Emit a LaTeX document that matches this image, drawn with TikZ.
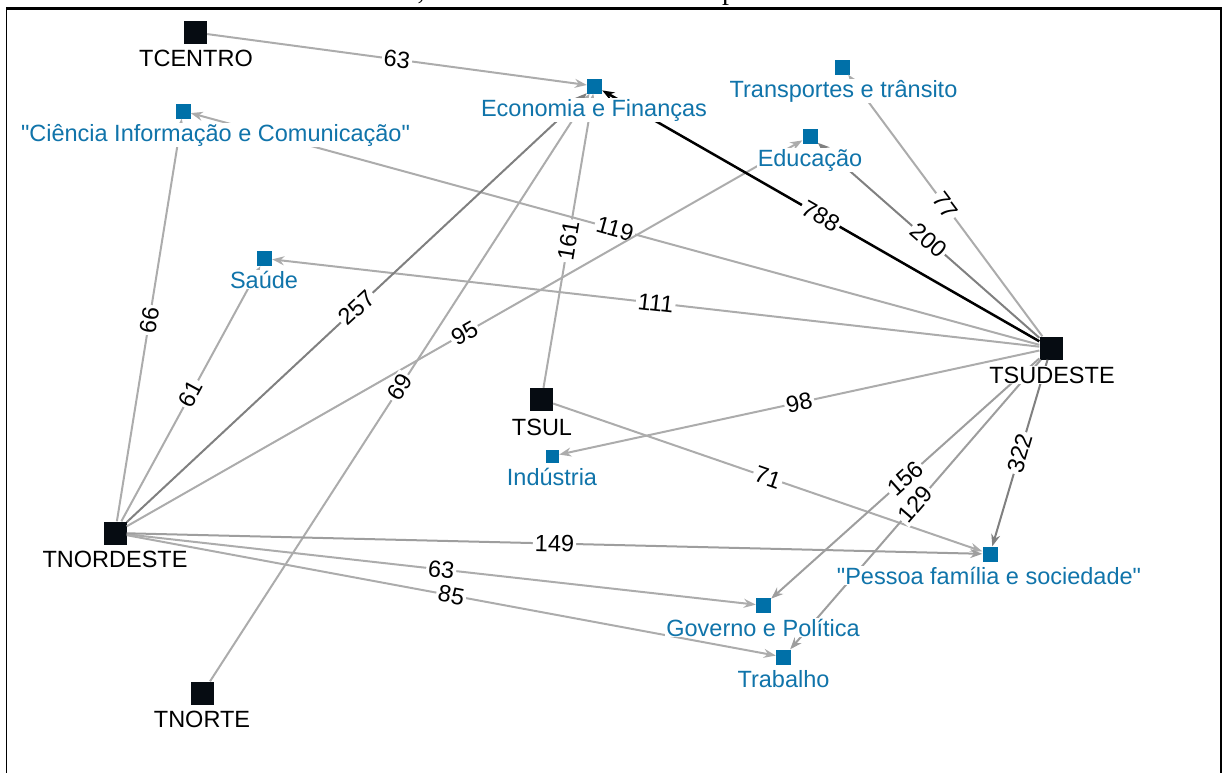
\documentclass[tikz,border=0pt]{standalone}
\usepackage{fontspec}
\setmainfont{Liberation Sans}
% plain family without TeX ligatures, so that " stays a straight quote
\newfontfamily\labelfont{Liberation Sans}
\newfontfamily\capfont{Liberation Serif}
\usetikzlibrary{arrows.meta}

\definecolor{topicblue}{RGB}{0,112,168}
\definecolor{labelblue}{RGB}{16,116,170}
\definecolor{regionsq}{RGB}{6,12,18}
\definecolor{edgelt}{RGB}{172,172,172}
\definecolor{edgemd}{RGB}{158,158,158}
\definecolor{edgedk}{RGB}{128,128,128}
\newcommand{\lblfont}{\labelfont\fontsize{23.5}{28}\selectfont}

\begin{document}
\begin{tikzpicture}[x=1pt,y=-1pt,
  region/.style={rectangle, fill=regionsq, minimum size=23pt, inner sep=0pt},
  topic/.style={rectangle, fill=topicblue, minimum size=15pt, inner sep=0pt},
  rlabel/.style={anchor=base, font=\lblfont, text=black, fill=white, inner sep=1pt},
  tlabel/.style={anchor=base, font=\lblfont, text=labelblue, fill=white, inner sep=1pt},
  link/.style={draw=#1, line width=2pt, -{Stealth[length=12pt,width=9pt]}},
  wnum/.style={midway, sloped, font=\lblfont, text=black, fill=white, inner sep=2pt}
]
\useasboundingbox (0,0) rectangle (1222,772);

% frame and remains of the caption line above it
\node[anchor=base, font=\capfont\fontsize{28}{30}\selectfont, inner sep=0pt] (capa) at (421,-1) {,};
\node[anchor=base, font=\capfont\fontsize{28}{30}\selectfont, inner sep=0pt] (capb) at (729,-1) {p};
\draw[line width=1.4pt] (6.5,773) -- (6.5,8) -- (1221,8) -- (1221,773);
\draw[line width=1pt] (6.5,9.5) -- (1221,9.5);

% regions
\node[region] (tcentro)   at (195.5,32.5) {};
\node[region] (tsudeste)  at (1051,348)   {};
\node[region] (tnordeste) at (115,533)    {};
\node[region] (tnorte)    at (202.5,693)  {};
\node[region] (tsul)      at (541.5,399.5) {};

% topics
\node[topic] (cic)  at (183,111)    {};
\node[topic] (sau)  at (264.5,258.5) {};
\node[topic] (eco)  at (594.5,86)   {};
\node[topic] (tra)  at (842.5,67)   {};
\node[topic] (edu)  at (810,136)    {};
\node[topic, minimum size=13pt] (ind) at (552.5,456) {};
\node[topic] (gov)  at (763.5,605.5) {};
\node[topic] (trab) at (783.5,657)  {};
\node[topic] (pes)  at (990,554)    {};

% links
\draw[link=edgelt] (tcentro) -- node[wnum]{63} (eco);
\draw[link=edgelt] (tsudeste) -- node[wnum]{119} (cic);
\draw[link=edgelt] (tsudeste) -- node[wnum]{111} (sau);
\draw[link=edgelt] (tsudeste) -- node[wnum]{77} (tra);
\draw[link=edgelt] (tsudeste) -- node[wnum]{98} (ind);
\draw[link=edgelt] (tsul) -- node[wnum]{161} (eco);
\draw[link=edgelt] (tsul) -- node[wnum]{71} (pes);
\draw[link=edgelt] (tnordeste) -- node[wnum]{66} (cic);
\draw[link=edgelt] (tnordeste) -- node[wnum]{61} (sau);
\draw[link=edgelt] (tnordeste) -- node[wnum]{95} (edu);
\draw[link=edgelt] (tnordeste) -- node[wnum]{63} (gov);
\draw[link=edgelt] (tnordeste) -- node[wnum]{85} (trab);
\draw[link=edgelt] (tnorte) -- node[wnum]{69} (eco);
\draw[link=edgemd] (tsudeste) -- node[wnum]{129} (trab);
\draw[link=edgemd] (tsudeste) -- node[wnum]{156} (gov);
\draw[link=edgemd] (tnordeste) -- node[wnum]{149} (pes);
\draw[link=edgedk] (tsudeste) -- node[wnum]{200} (edu);
\draw[link=edgedk] (tnordeste) -- node[wnum]{257} (eco);
\draw[link=edgedk] (tsudeste) -- node[wnum]{322} (pes);
\draw[link=black, line width=2.5pt] (tsudeste) -- node[wnum]{788} (eco);

% names
\node[rlabel] (ltcentro)   at (196,66.5)  {TCENTRO};
\node[rlabel] (ltsudeste)  at (1052,383)  {TSUDESTE};
\node[rlabel] (ltnordeste) at (115,567)   {TNORDESTE};
\node[rlabel] (ltnorte)    at (202,727)   {TNORTE};
\node[rlabel] (ltsul)      at (542,435)   {TSUL};

\node[tlabel] (lcic)  at (215.5,141) {"Ciência Informação e Comunicação"};
\node[tlabel] (lsau)  at (264,288)   {Saúde};
\node[tlabel] (leco)  at (594,116)   {Economia e Finanças};
\node[tlabel] (ltra)  at (843.5,97.5) {Transportes e trânsito};
\node[tlabel] (ledu)  at (810,166)   {Educação};
\node[tlabel] (lind)  at (552,485.5) {Indústria};
\node[tlabel] (lgov)  at (763,636)   {Governo e Política};
\node[tlabel] (ltrab) at (783.5,687.5) {Trabalho};
\node[tlabel] (lpes)  at (989,584)   {"Pessoa família e sociedade"};
\end{tikzpicture}
\end{document}
